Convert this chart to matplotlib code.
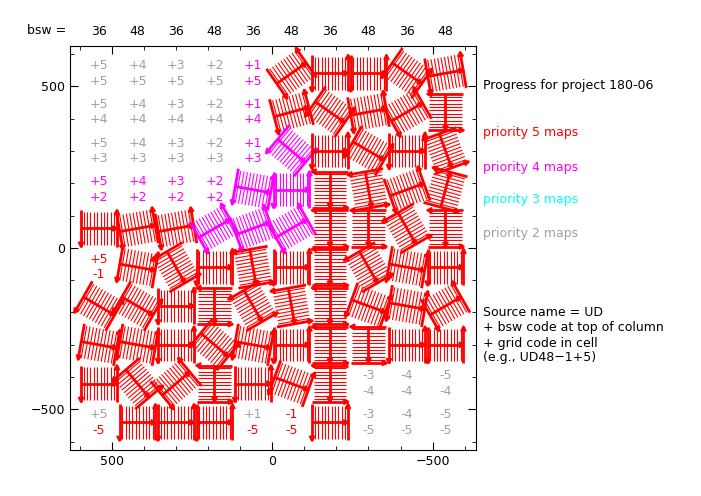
import numpy as np
import matplotlib
matplotlib.use("Agg")
import matplotlib.pyplot as plt
from matplotlib.ticker import MultipleLocator

COL_X = [540, 420, 300, 180, 60, -60, -180, -300, -420, -540]
ROW_Y = [540, 420, 300, 180, 60, -60, -180, -300, -420, -540]
COL_CODE = ["+5", "+4", "+3", "+2", "+1", "-1", "-2", "-3", "-4", "-5"]
ROW_CODE = ["+5", "+4", "+3", "+2", "+1", "-1", "-2", "-3", "-4", "-5"]
BSW = ["36", "48", "36", "48", "36", "48", "36", "48", "36", "48"]

RED, MAG, CYAN, GREY = "#ff0000", "#ff00ff", "#00ffff", "#a0a0a0"

# glyph cells: (row, col, angle deg, colour)
GLYPHS = [
    (0, 5, -35, RED), (0, 6, 0, RED), (0, 7, 0, RED), (0, 8, 35, RED), (0, 9, -10, RED),
    (1, 5, -15, RED), (1, 6, 35, RED), (1, 7, -10, RED), (1, 8, -30, RED), (1, 9, 90, RED),
    (2, 5, 40, MAG), (2, 6, 0, RED), (2, 7, 30, RED), (2, 8, 0, RED), (2, 9, 70, RED),
    (3, 4, 10, MAG), (3, 5, 0, MAG), (3, 6, 90, RED), (3, 7, 80, RED), (3, 8, -20, RED), (3, 9, -75, RED),
    (4, 0, 0, RED), (4, 1, -10, RED), (4, 2, -10, RED), (4, 3, -30, MAG), (4, 4, -20, MAG),
    (4, 5, -30, MAG), (4, 6, 90, RED), (4, 7, 90, RED), (4, 8, 60, RED), (4, 9, 90, RED),
    (5, 1, 10, RED), (5, 2, 60, RED), (5, 3, 0, RED), (5, 4, 80, RED), (5, 5, 0, RED),
    (5, 6, 90, RED), (5, 7, 60, RED), (5, 8, 10, RED), (5, 9, 0, RED),
    (6, 0, 30, RED), (6, 1, 30, RED), (6, 2, 0, RED), (6, 3, 90, RED), (6, 4, 60, RED),
    (6, 5, 80, RED), (6, 6, 90, RED), (6, 7, 20, RED), (6, 8, 10, RED), (6, 9, -30, RED),
    (7, 0, 10, RED), (7, 1, 10, RED), (7, 2, 0, RED), (7, 3, 40, RED), (7, 4, 10, RED),
    (7, 5, 0, RED), (7, 6, 90, RED), (7, 7, 90, RED), (7, 8, 0, RED), (7, 9, 0, RED),
    (8, 0, 0, RED), (8, 1, 50, RED), (8, 2, -40, RED), (8, 3, 90, RED), (8, 4, 0, RED),
    (8, 5, 20, RED), (8, 6, 90, RED),
    (9, 1, 0, RED), (9, 2, 0, RED), (9, 3, 0, RED), (9, 6, 0, RED),
]

# text cells: (row, col, top colour, bottom colour)
TEXTS = [(0, c, GREY, GREY) for c in range(4)] + [(0, 4, MAG, MAG)]
TEXTS += [(1, c, GREY, GREY) for c in range(4)] + [(1, 4, MAG, MAG)]
TEXTS += [(2, c, GREY, GREY) for c in range(4)] + [(2, 4, MAG, MAG)]
TEXTS += [(3, c, MAG, MAG) for c in range(4)]
TEXTS += [(5, 0, RED, RED)]
TEXTS += [(8, c, GREY, GREY) for c in (7, 8, 9)]
TEXTS += [(9, 0, GREY, RED), (9, 4, GREY, RED), (9, 5, RED, RED)]
TEXTS += [(9, c, GREY, GREY) for c in (7, 8, 9)]


def draw_glyph(ax, x0, y0, ang, col):
    w, h = 56, 56
    a = np.deg2rad(ang)
    R = np.array([[np.cos(a), -np.sin(a)], [np.sin(a), np.cos(a)]])

    def seg(pts, lw):
        p = np.array(pts, float) @ R.T
        ax.plot(p[:, 0] + x0, p[:, 1] + y0, color=col, lw=lw, solid_capstyle="butt")

    for xi in np.linspace(-w * 0.85, w * 0.85, 10):
        seg([(xi, -h * 0.9), (xi, h * 0.9)], 0.8)
    seg([(-w, -h), (-w, h)], 2)
    seg([(w, -h), (w, h)], 2)
    seg([(-w, 0), (w, 0)], 2)
    ah = 15
    seg([(-w - 7, h - ah), (-w, h), (-w + 7, h - ah)], 1.8)
    seg([(w - 7, -h + ah), (w, -h), (w + 7, -h + ah)], 1.8)
    seg([(-w + ah, 7), (-w, 0), (-w + ah, -7)], 1.8)


fig = plt.figure(figsize=(7.01, 4.96), dpi=100)
ax = fig.add_axes([0.1, 0.093, 0.579, 0.814])
ax.set_xlim(630, -635)
ax.set_ylim(-625, 624)

for r, c, ang, col in GLYPHS:
    draw_glyph(ax, COL_X[c], ROW_Y[r], ang, col)
for r, c, tc, bc in TEXTS:
    ax.text(COL_X[c], ROW_Y[r] + 24, COL_CODE[c], color=tc, ha="center", va="center", fontsize=9)
    ax.text(COL_X[c], ROW_Y[r] - 24, ROW_CODE[r], color=bc, ha="center", va="center", fontsize=9)

ax.set_xticks([500, 0, -500])
ax.set_yticks([-500, 0, 500])
ax.xaxis.set_minor_locator(MultipleLocator(100))
ax.yaxis.set_minor_locator(MultipleLocator(100))
ax.tick_params(which="both", direction="in", top=True, right=True, labelsize=9)
ax.tick_params(which="major", length=6)
ax.tick_params(which="minor", length=3)

fig.text(27 / 701, 1 - 31 / 496, "bsw =", fontsize=9, va="center")
for x, b in zip(COL_X, BSW):
    ax.text(x, 1.035, b, transform=ax.get_xaxis_transform(), ha="center", va="center", fontsize=9)

side = [(86, "Progress for project 180-06", "black"),
        (133, "priority 5 maps", RED), (167, "priority 4 maps", MAG),
        (200, "priority 3 maps", CYAN), (233, "priority 2 maps", GREY),
        (313, "Source name = UD", "black"), (328, "+ bsw code at top of column", "black"),
        (343, "+ grid code in cell", "black"), (358, "(e.g., UD48\u22121+5)", "black")]
for py, s, col in side:
    fig.text(483 / 701, 1 - py / 496, s, color=col, fontsize=9, va="center")

fig.savefig("out.png", dpi=100)
